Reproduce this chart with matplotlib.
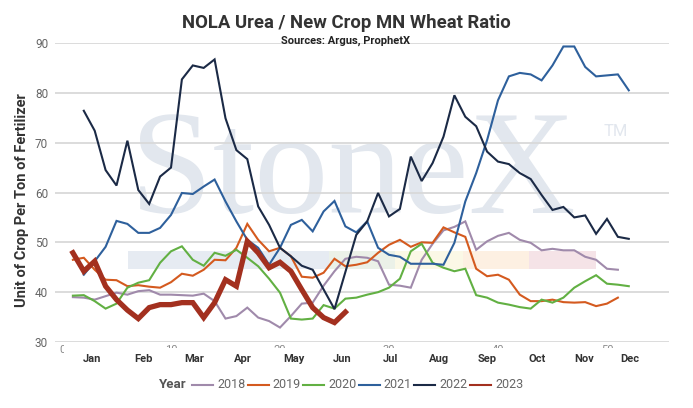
import matplotlib
matplotlib.use("Agg")
import matplotlib.pyplot as plt
from matplotlib.lines import Line2D
from matplotlib.patches import Rectangle
from matplotlib.transforms import Bbox

plt.rcParams['font.family'] = ['Roboto', 'DejaVu Sans']

# week numbers on the x axis, month labels sit mid-month
months = ["Jan", "Feb", "Mar", "Apr", "May", "Jun", "Jul", "Aug", "Sep", "Oct", "Nov", "Dec"]
month_pos = [2.75, 7.43, 12.1, 16.6, 21.3, 25.7, 30.1, 34.6, 39.0, 43.6, 47.9, 52.1]
week_ticks = [0, 10, 20, 30, 40, 50]

weeks_2018 = list(range(1, 52))
vals_2018 = [39.0, 38.9, 38.5, 39.2, 39.9, 39.5, 40.2, 40.4, 39.5, 39.5, 39.4, 39.3, 39.7,
             38.2, 34.7, 35.2, 36.9, 34.9, 34.2, 32.9, 35.2, 37.7, 37.9, 41.3, 44.2, 46.7, 47.1,
             46.9, 46.2, 41.5, 41.3, 40.9, 46.5, 49.7, 52.4, 53.1, 54.2, 48.5, 50.2, 51.3, 51.9,
             50.5, 49.9, 48.4, 48.7, 48.4, 48.4, 47.1, 46.5, 44.7, 44.5]

weeks_2019 = list(range(1, 52))
vals_2019 = [46.5, 46.9, 44.5, 42.5, 42.4, 41.2, 41.4, 41.1, 40.9, 42.0, 43.7, 43.3, 44.5,
             46.5, 46.4, 48.9, 53.7, 50.5, 48.2, 48.9, 47.2, 43.1, 42.9, 43.9, 46.7, 45.2, 45.5,
             46.0, 47.9, 49.5, 50.5, 49.1, 50.0, 49.9, 53.0, 52.0, 51.1, 44.7, 43.2, 43.5, 42.5,
             39.5, 38.2, 38.2, 38.5, 38.0, 37.9, 38.0, 37.2, 37.7, 38.9]

weeks_2020 = list(range(1, 53))
vals_2020 = [39.3, 39.4, 38.2, 36.7, 37.7, 40.9, 41.9, 42.4, 45.9, 48.2, 49.2, 46.5, 45.3,
             47.9, 47.3, 48.5, 46.9, 45.2, 42.7, 39.9, 34.7, 34.5, 34.7, 37.4, 36.7, 38.7, 38.9,
             39.5, 40.0, 40.9, 42.7, 48.2, 49.7, 45.9, 44.9, 44.2, 44.7, 39.4, 38.9, 37.9, 37.5,
             37.0, 36.7, 38.5, 37.9, 38.9, 40.9, 42.2, 43.4, 41.7, 41.5, 41.2]

weeks_2021 = list(range(2, 53))
vals_2021 = [43.5, 46.2, 49.1, 54.3, 53.7, 51.9, 51.9, 52.9, 55.5, 59.9, 59.7, 61.2, 62.6,
             58.2, 54.2, 50.5, 48.9, 45.5, 48.9, 53.5, 54.5, 52.2, 56.2, 58.3, 53.2, 52.0,
             54.2, 48.9, 47.5, 47.1, 45.7, 45.7, 45.7, 45.5, 49.9, 58.2, 63.9, 70.5, 78.5, 83.3,
             84.0, 83.7, 82.5, 85.5, 89.3, 89.3, 85.2, 83.3, 83.5, 83.7, 80.5]

weeks_2022 = list(range(2, 24)) + [25] + list(range(27, 53))
vals_2022 = [76.4, 72.4, 64.5, 61.4, 70.4, 60.5, 57.7, 63.2, 65.0, 82.7, 85.5, 85.0, 86.7,
             74.9, 68.5, 66.7, 57.2, 53.5, 48.9, 47.2, 45.3, 44.5, 36.6,
             51.5, 54.2, 59.9, 55.2, 56.7, 67.2, 62.3, 65.9, 71.2, 79.5, 75.2, 73.3, 68.2, 66.2, 65.7,
             63.9, 62.7, 59.5, 56.5, 57.1, 55.0, 55.4, 51.7, 54.7, 51.1, 50.7]

weeks_2023 = list(range(1, 27))
vals_2023 = [47.9, 44.2, 46.2, 41.2, 38.5, 36.4, 34.7, 36.9, 37.5, 37.5, 37.9, 37.9, 34.9,
             37.9, 42.5, 41.2, 50.2, 47.9, 44.9, 46.0, 44.2, 40.5, 36.9, 34.9, 33.9, 36.0]

years = ["2018", "2019", "2020", "2021", "2022", "2023"]
colors = ["#a08aab", "#d45a1f", "#62b043", "#2e609c", "#1b2a46", "#a3301f"]
widths = [1.5, 1.5, 1.5, 1.5, 1.5, 3.8]
series = [(weeks_2018, vals_2018), (weeks_2019, vals_2019), (weeks_2020, vals_2020),
          (weeks_2021, vals_2021), (weeks_2022, vals_2022), (weeks_2023, vals_2023)]

W, H = 693, 408
fig = plt.figure(figsize=(W / 100, H / 100), dpi=100)
ax = fig.add_axes([55 / W, 66 / H, 614 / W, 299 / H])


def fx(x):
    return x / W


def fy(y):
    return 1 - y / H


# faded StoneX watermark behind everything
wm = "#e2e7ee"
ax.text(fx(130), fy(213), "StoneX", transform=fig.transFigure, fontsize=107,
        family="Liberation Serif", color=wm, va="baseline", ha="left", zorder=0.2)
ax.text(fx(604), fy(131), "TM", transform=fig.transFigure, fontsize=12,
        color=wm, va="center", ha="left", zorder=0.2)
band = [(128, 329, "#e6ebf2"), (329, 395, "#ebf1e8"), (395, 463, "#fbf8e6"),
        (463, 529, "#fdf0e2"), (529, 596, "#f5e3e7")]
for x0, x1, c in band:
    ax.add_patch(Rectangle((fx(x0), fy(269)), fx(x1) - fx(x0), 18 / H,
                           transform=fig.transFigure, color=c, lw=0, zorder=0.1))

for (wk, v), lab, c, lw in zip(series, years, colors, widths):
    ax.plot(wk, v, color=c, lw=lw, label=lab, solid_joinstyle="miter")

ax.set_xlim(-0.642, 55.69)
ax.set_ylim(30, 90)
ax.set_yticks(range(30, 91, 10))
ax.set_axisbelow(True)
ax.yaxis.grid(True, color="#d9d9d9", lw=1.3)
for s in ax.spines.values():
    s.set_visible(False)
ax.tick_params(axis="y", length=0, pad=5, labelsize=8.5, labelcolor="#666666")
ax.set_xticks(month_pos)
ax.set_xticklabels(months, fontsize=8, fontweight="bold", color="#333333")
ax.tick_params(axis="x", length=0, pad=9)

# week numbers hidden behind the month row, only their tops show
for w in week_ticks:
    xp = 62 + 10.9 * w
    t = fig.text(fx(xp), fy(345), str(w), ha="center", va="top", fontsize=8, color="#8a8a8a")
    if w == 0:
        t.set_clip_box(Bbox.from_extents(0, H - 357, 63.5, H - 344))
    else:
        t.set_clip_box(Bbox.from_extents(0, H - 347.5, W, H - 344))
    t.set_clip_on(True)

fig.text(fx(346), fy(23), "NOLA Urea / New Crop MN Wheat Ratio", ha="center", va="center",
         fontsize=13.3, fontweight="bold", color="#333333")
fig.text(fx(346), fy(41), "Sources: Argus, ProphetX", ha="center", va="center",
         fontsize=8, fontweight="bold", color="#222222")
fig.text(fx(22), fy(200), "Unit of Crop Per Ton of Fertilizer", rotation=90, ha="center",
         va="center", fontsize=10.5, fontweight="bold", color="#333333")

# legend row
ly = fy(385)
fig.text(fx(159), ly, "Year", ha="left", va="center", fontsize=9.5, fontweight="bold", color="#555555")
for i, (lab, c) in enumerate(zip(years, colors)):
    x0 = 192 + 55.6 * i
    fig.add_artist(Line2D([fx(x0), fx(x0 + 21)], [ly, ly], color=c, lw=1.5))
    fig.text(fx(x0 + 25), ly, lab, ha="left", va="center", fontsize=9, color="#666666")

fig.savefig("out.png", dpi=100)
